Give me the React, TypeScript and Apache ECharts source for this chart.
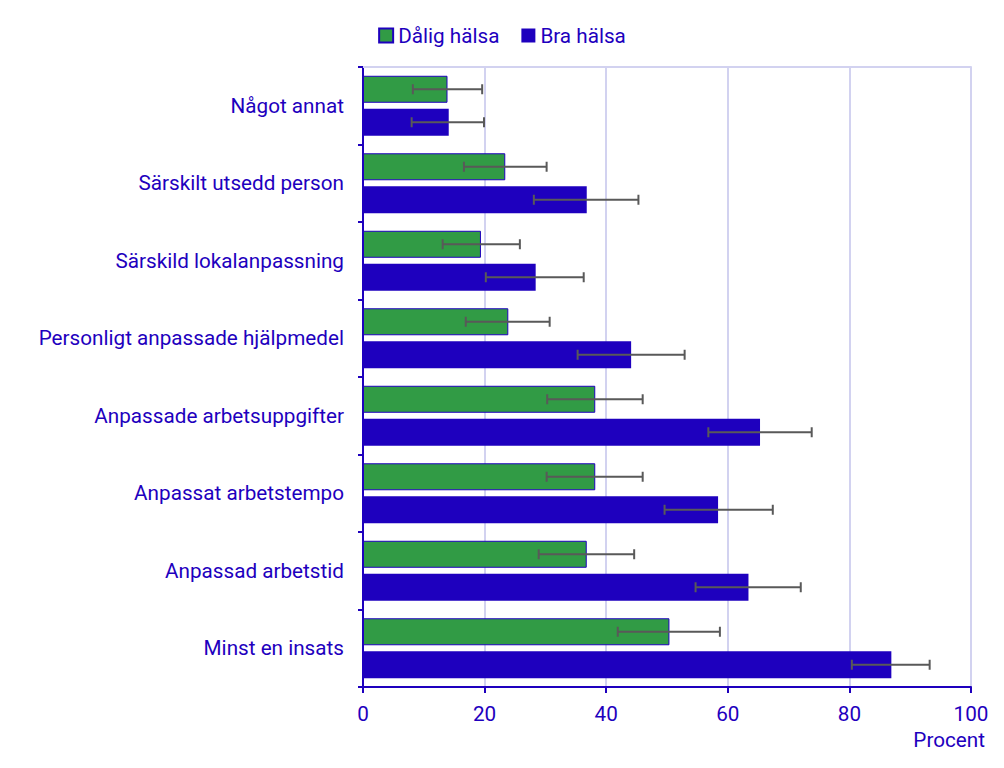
import React, { useEffect, useRef } from "react";
import * as echarts from "echarts";

const categories = [
  "Något annat",
  "Särskilt utsedd person",
  "Särskild lokalanpassning",
  "Personligt anpassade hjälpmedel",
  "Anpassade arbetsuppgifter",
  "Anpassat arbetstempo",
  "Anpassad arbetstid",
  "Minst en insats",
];

const dalig = [13.9, 23.4, 19.4, 23.9, 38.2, 38.2, 36.8, 50.4];
const daligLow = [8.2, 16.6, 13.1, 16.9, 30.3, 30.2, 28.9, 41.9];
const daligHigh = [19.6, 30.2, 25.8, 30.7, 46.0, 46.0, 44.6, 58.7];

const bra = [14.1, 36.8, 28.4, 44.1, 65.3, 58.4, 63.4, 86.9];
const braLow = [8.0, 28.1, 20.2, 35.3, 56.8, 49.6, 54.7, 80.4];
const braHigh = [19.9, 45.3, 36.3, 52.9, 73.8, 67.4, 72.0, 93.2];

const xTicks = [0, 20, 40, 60, 80, 100];

const BLUE = "#1E00BE";
const GREEN = "#319B45";
const FONT = "Roboto";
const FS = 20.7;

function errorSeries(name: string, low: number[], high: number[], offset: number) {
  return {
    type: "custom",
    name,
    data: low.map((l, i) => [l, high[i], i]),
    encode: { x: [0, 1], y: 2 },
    z: 10,
    renderItem: (params: any, api: any) => {
      const idx = api.value(2);
      const p1 = api.coord([api.value(0), idx]);
      const p2 = api.coord([api.value(1), idx]);
      const y = p1[1] + offset;
      const cap = 5;
      const style = { stroke: "#595959", lineWidth: 2 };
      return {
        type: "group",
        children: [
          { type: "line", shape: { x1: p1[0], y1: y, x2: p2[0], y2: y }, style },
          { type: "line", shape: { x1: p1[0], y1: y - cap, x2: p1[0], y2: y + cap }, style },
          { type: "line", shape: { x1: p2[0], y1: y - cap, x2: p2[0], y2: y + cap }, style },
        ],
      };
    },
  };
}

export default function App() {
  const ref = useRef<HTMLDivElement>(null);
  useEffect(() => {
    if (!ref.current) return;
    const chart = echarts.init(ref.current, undefined, { renderer: "svg" });
    chart.setOption({
      animation: false,
      textStyle: { fontFamily: FONT },
      legend: {
        data: ["Dålig hälsa", "Bra hälsa"],
        top: 20,
        left: "center",
        icon: "rect",
        itemWidth: 14,
        itemHeight: 14,
        itemGap: 22,
        textStyle: { color: BLUE, fontSize: FS, fontFamily: FONT },
      },
      grid: { left: 363, right: 33, top: 67, bottom: 81, containLabel: false },
      xAxis: [
        {
          type: "value",
          min: 0,
          max: 100,
          interval: 20,
          position: "bottom",
          axisLine: { show: true, lineStyle: { color: BLUE, width: 2 } },
          axisTick: { show: true, length: 6, lineStyle: { color: BLUE, width: 2 } },
          axisLabel: {
            color: BLUE,
            fontSize: FS,
            fontFamily: FONT,
            margin: 16,
            formatter: (v: number) => (xTicks.includes(v) ? String(v) : ""),
          },
          splitLine: { show: true, lineStyle: { color: "#D2D2F0", width: 2 } },
        },
        {
          type: "value",
          min: 0,
          max: 100,
          interval: 20,
          position: "top",
          axisLine: { show: true, lineStyle: { color: "#D2D2F0", width: 2 } },
          axisTick: { show: false },
          axisLabel: { show: false },
          splitLine: { show: false },
        },
      ],
      yAxis: {
        type: "category",
        data: categories,
        inverse: true,
        axisLine: { show: true, lineStyle: { color: BLUE, width: 2 } },
        axisTick: { show: true, length: 5, lineStyle: { color: BLUE, width: 2 } },
        axisLabel: { color: BLUE, fontSize: FS, fontFamily: FONT, margin: 19 },
        splitLine: { show: false },
      },
      graphic: [
        {
          type: "text",
          right: 19,
          top: 729,
          style: { text: "Procent", fill: BLUE, fontSize: FS, fontFamily: FONT },
        },
      ],
      series: [
        {
          type: "bar",
          name: "Dålig hälsa",
          data: dalig,
          barWidth: 27,
          barGap: "22%",
          itemStyle: { color: GREEN, borderColor: BLUE, borderWidth: 1 },
        },
        {
          type: "bar",
          name: "Bra hälsa",
          data: bra,
          barWidth: 27,
          barGap: "22%",
          itemStyle: { color: BLUE },
        },
        errorSeries("errD", daligLow, daligHigh, -16.5),
        errorSeries("errB", braLow, braHigh, 16.5),
      ],
    });
    return () => chart.dispose();
  }, []);
  return <div ref={ref} style={{ width: 1004, height: 768, position: "absolute", left: 0, top: 0 }} />;
}
